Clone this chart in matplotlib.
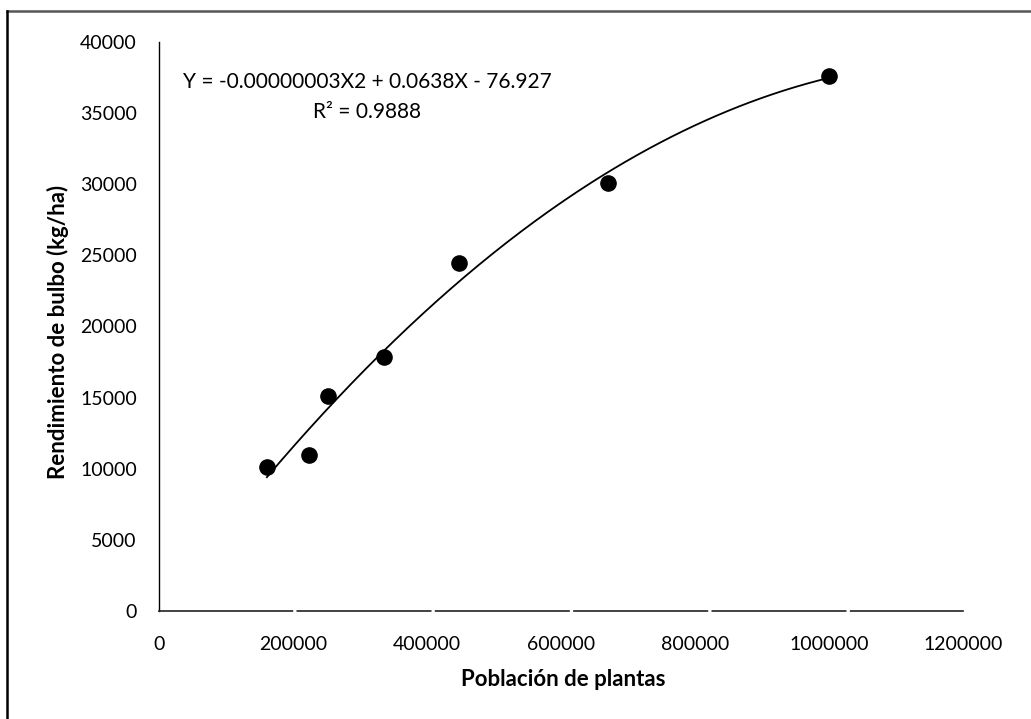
import numpy as np
import matplotlib.pyplot as plt
from matplotlib.lines import Line2D

plt.rcParams['font.family'] = ['Lato', 'DejaVu Sans']

# datos
poblacion = [161000, 224000, 252000, 336000, 448000, 670000, 1000000]
rendimiento = [10100, 10970, 15120, 17860, 24470, 30100, 37620]
xticks = [0, 200000, 400000, 600000, 800000, 1000000, 1200000]
yticks = [0, 5000, 10000, 15000, 20000, 25000, 30000, 35000, 40000]
ecuacion = 'Y = -0.00000003X2 + 0.0638X - 76.927'
r2 = 'R² = 0.9888'

# linea de tendencia polinomica de orden 2 (como en Excel)
coef = np.polyfit(poblacion, rendimiento, 2)
xs = np.linspace(min(poblacion), max(poblacion), 200)
ys = np.polyval(coef, xs)

W, H = 1031, 719
fig = plt.figure(figsize=(W / 100, H / 100), dpi=100)
ax = fig.add_axes([159 / W, 1 - 611 / H, 804 / W, 569 / H])

ax.plot(xs, ys, color='black', lw=1.3)
ax.scatter(poblacion, rendimiento, s=120, color='black', zorder=3)

ax.set_xlim(0, 1200000)
ax.set_ylim(0, 40000)
ax.set_xticks(xticks)
ax.set_yticks(yticks)
ax.set_xticklabels([str(t) for t in xticks], fontsize=14)
ax.set_yticklabels([str(t) for t in yticks], fontsize=14)
ax.tick_params(axis='both', length=0)
ax.tick_params(axis='x', pad=18)
ax.tick_params(axis='y', pad=16)

ax.spines['top'].set_visible(False)
ax.spines['right'].set_visible(False)
ax.spines['left'].set_linewidth(1.0)
ax.spines['bottom'].set_linewidth(1.2)
ax.spines['bottom'].set_color('#222222')
ax.spines['bottom'].set_linestyle((0, (80, 3)))

# ecuacion de la tendencia
fig.text(367 / W, 1 - 82 / H, ecuacion, ha='center', va='center', fontsize=15)
fig.text(367 / W, 1 - 112 / H, r2, ha='center', va='center', fontsize=15)

fig.text(563 / W, 1 - 680 / H, 'Población de plantas', ha='center', va='center',
         fontsize=16, fontweight='bold')
fig.text(58 / W, 1 - 332 / H, 'Rendimiento de bulbo (kg/ha)', ha='center', va='center',
         rotation=90, fontsize=16, fontweight='bold')

# borde del area del grafico
fig.add_artist(Line2D([7 / W, 1], [1 - 11 / H, 1 - 11 / H], color='#555555', lw=1.8))
fig.add_artist(Line2D([7 / W, 7 / W], [0, 1 - 11 / H], color='black', lw=1.8))

fig.savefig('out.png', dpi=100)
